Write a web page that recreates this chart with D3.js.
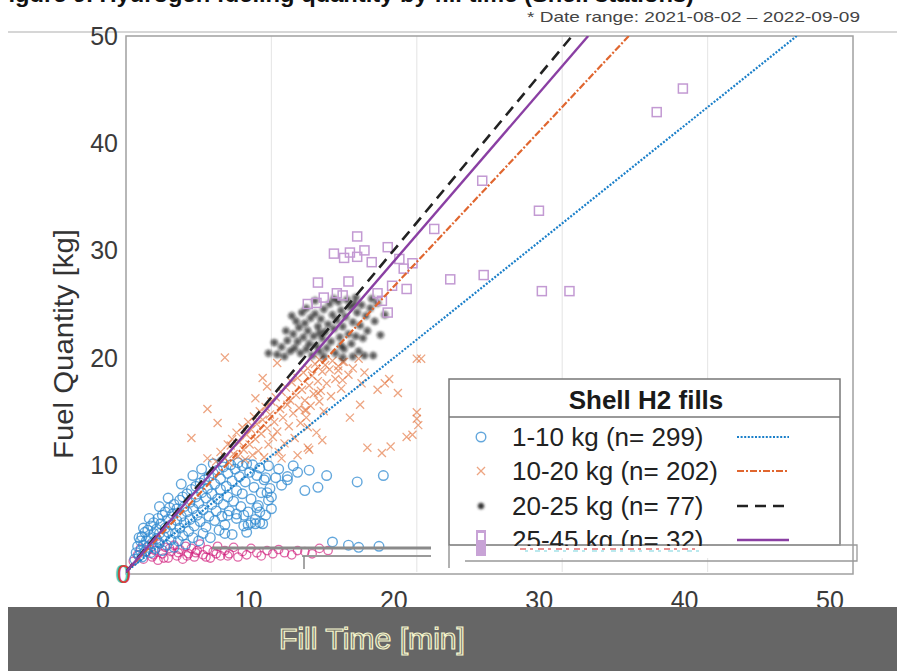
<!DOCTYPE html>
<html>
<head>
<meta charset="utf-8">
<script src="https://cdn.jsdelivr.net/npm/d3@7"></script>
<style>
  body { margin: 0; background: #fff; }
  svg { display: block; font-family: "Liberation Sans", Arial, sans-serif; }
</style>
</head>
<body>
<svg id="chart" width="897" height="671"></svg>
<script>
// ---- data ---------------------------------------------------------------
const xTicks = [0, 10, 20, 30, 40, 50];
const yTicks = [10, 20, 30, 40, 50];
const groupNames = ["1-10 kg", "10-20 kg", "20-25 kg", "25-45 kg"];
const groupCounts = [299, 202, 77, 32];
// least-squares slope through origin for each group [kg/min]
const fitSlopes = [1.084, 1.446, 1.63, 1.573];

// fills of 1-10 kg: [fill time min, quantity kg]
const fills1to10 = [
  [0.6,1.2],[0.7,1.8],[0.8,2.4],[0.9,1.5],[1.0,2.9],[1.0,2.0],[1.1,3.3],[1.1,1.4],[1.2,2.5],[1.3,3.7],
  [1.3,1.9],[1.4,2.9],[1.5,3.9],[1.5,2.3],[1.6,3.2],[1.7,4.3],[1.7,1.8],[1.8,2.7],[1.9,3.6],[1.9,4.6],
  [2.0,2.2],[2.1,3.1],[2.1,4.0],[2.2,5.0],[2.3,2.7],[2.3,3.6],[2.4,4.5],[2.5,2.0],[2.5,5.3],[2.6,3.3],
  [2.7,4.1],[2.7,5.6],[2.8,2.5],[2.9,3.7],[2.9,4.9],[3.0,6.0],[3.1,3.0],[3.1,4.4],[3.2,5.4],[3.3,2.3],
  [3.3,6.3],[3.4,3.6],[3.5,4.8],[3.5,5.9],[3.6,2.9],[3.7,6.7],[3.7,4.1],[3.8,5.2],[3.9,3.4],[3.9,7.0],
  [4.0,4.6],[4.0,6.1],[4.1,2.6],[4.2,5.6],[4.2,7.3],[4.3,3.8],[4.4,6.5],[4.4,4.9],[4.5,7.7],[4.6,3.2],
  [4.6,5.9],[4.7,4.3],[4.8,7.0],[4.8,8.0],[4.9,5.3],[5.0,2.9],[5.0,6.4],[5.1,8.3],[5.1,4.7],[5.2,7.4],
  [5.3,3.6],[5.3,5.8],[5.4,8.6],[5.5,6.9],[5.5,4.2],[5.6,7.8],[5.7,5.2],[5.7,8.9],[5.8,3.2],[5.9,6.3],
  [5.9,7.3],[6.0,9.2],[6.1,4.8],[6.1,8.2],[6.2,5.7],[6.3,6.8],[6.3,9.5],[6.4,3.9],[6.5,7.7],[6.5,8.7],
  [6.6,5.2],[6.7,9.8],[6.7,6.3],[6.8,4.4],[6.9,8.0],[7.0,9.2],[7.0,7.0],[7.1,5.7],[7.2,10.0],[7.3,8.5],
  [7.3,3.5],[7.4,6.6],[7.5,9.6],[7.6,7.6],[7.6,5.0],[7.7,10.2],[7.8,8.9],[7.9,6.1],[8.0,9.9],[8.0,7.3],
  [8.1,4.3],[8.2,8.4],[8.3,10.1],[8.4,5.6],[8.5,9.3],[8.6,6.8],[8.7,10.0],[8.8,7.9],[8.9,4.9],[9.0,9.0],
  [9.1,6.2],[9.2,9.7],[9.3,7.4],[9.5,8.6],[9.6,5.3],[9.8,9.9],[10.0,7.0],[6.0,10.1],[6.6,10.3],[5.2,9.6],
  [4.6,9.0],[3.8,8.2],[2.9,6.9],[1.2,4.1],[0.9,3.2],[1.6,5.0],[2.3,6.1],
  [11.8,9.3],[11.1,8.9],[10.3,8.8],[9.6,8.8],[10.7,8.1],[11.1,8.6],[13.2,7.9],[15.9,8.4],[17.7,9.0],
  [9.9,7.8],[9.7,7.4],[9.8,6.7],[9.0,6.0],[10.0,5.9],[9.2,5.6],[8.9,4.5],[9.4,4.5],[7.6,5.4],[8.1,5.3],
  [7.0,5.3],[8.6,4.6],[9.2,4.6],[8.4,4.4],[6.8,3.6],[8.3,3.7],[12.3,7.6],[10.5,9.6],[11.5,9.9],[12.6,9.5],
  [13.8,9.0],[14.2,2.8],[15.3,2.5],[16.0,2.3],[17.4,2.4]
];

// fills of 10-20 kg
const fills10to20 = [
  [6.2,10.3],[6.5,11.2],[6.8,10.6],[7.0,11.9],[7.1,10.2],[7.3,12.4],[7.4,11.0],[7.6,13.0],[7.7,10.8],[7.8,12.1],
  [8.0,13.5],[8.1,11.4],[8.2,10.5],[8.3,12.8],[8.4,14.0],[8.5,11.9],[8.6,13.3],[8.7,10.9],[8.8,14.5],[8.9,12.4],
  [9.0,13.8],[9.1,11.3],[9.2,15.0],[9.3,12.9],[9.4,14.2],[9.5,10.7],[9.6,15.4],[9.7,13.4],[9.8,11.9],[9.9,14.7],
  [10.0,15.9],[10.1,12.6],[10.2,14.0],[10.3,16.3],[10.4,13.1],[10.5,11.2],[10.6,15.2],[10.7,16.8],[10.8,14.4],[10.9,12.0],
  [11.0,17.2],[11.1,15.6],[11.2,13.6],[11.3,16.0],[11.4,17.7],[11.5,14.8],[11.6,12.5],[11.7,16.5],[11.8,18.1],[11.9,15.3],
  [12.0,13.9],[12.1,17.0],[12.2,18.6],[12.3,16.0],[12.4,14.4],[12.5,19.0],[12.6,17.4],[12.7,15.5],[12.8,18.3],[12.9,16.6],
  [13.0,19.4],[13.1,13.0],[13.2,17.8],[13.3,19.8],[13.4,16.9],[13.5,18.7],[13.6,15.0],[13.7,19.3],[13.8,17.6],[14.0,18.9],
  [14.1,16.4],[14.2,19.7],[14.4,18.0],[14.6,19.2],[14.8,17.1],[15.0,19.6],[15.3,18.4],[15.6,19.0],[16.0,19.9],[16.4,18.6],
  [4.5,12.5],[5.6,15.2],[6.8,20.0],[9.4,18.1],[10.4,19.5],[6.3,13.9],[7.2,11.8],[5.6,10.6],[10.7,10.6],[11.8,10.9],
  [12.5,11.6],[12.3,15.1],[12.5,13.5],[20.0,19.9],[20.3,19.9],[14.6,18.8],[14.9,17.9],[16.1,15.6],[15.4,14.4],[17.3,17.0],
  [17.8,17.6],[18.1,18.0],[18.7,16.7],[16.2,17.6],[20.0,14.9],[20.0,14.3],[20.1,13.7],[19.7,12.8],[19.3,12.6],[16.6,11.6],
  [17.6,11.1],[18.2,11.7],[13.5,12.3],[12.6,11.4],[13.2,16.7],[13.3,15.9],[12.4,15.1],[14.9,19.6],[8.9,16.2],[9.7,17.3]
];

// fills of 20-25 kg
const fills20to25 = [
  [10.4,20.3],[10.7,21.0],[10.9,20.1],[11.1,21.6],[11.3,20.6],[11.5,22.2],[11.6,20.9],[11.8,21.5],[11.9,22.8],[12.0,20.4],
  [12.2,21.9],[12.3,23.2],[12.4,20.8],[12.5,22.5],[12.6,21.3],[12.7,23.7],[12.8,20.2],[12.9,22.0],[13.0,24.1],[13.1,21.1],
  [13.2,22.9],[13.3,20.6],[13.4,23.6],[13.5,21.8],[13.6,24.5],[13.7,22.4],[13.8,20.9],[13.9,23.1],[14.0,25.0],[14.1,21.5],
  [14.2,24.0],[14.3,22.7],[14.4,20.4],[14.5,23.5],[14.6,25.2],[14.7,21.9],[14.8,24.4],[14.9,22.9],[15.0,20.8],[15.1,23.8],
  [15.2,25.4],[15.3,22.2],[15.4,24.7],[15.5,21.3],[15.6,23.3],[15.7,25.0],[15.8,22.0],[15.9,24.2],[16.0,20.6],[16.1,23.0],
  [16.2,24.9],[16.3,21.8],[16.5,23.9],[16.6,22.5],[16.8,24.6],[17.0,20.2],[17.1,23.4],[17.3,25.1],[17.5,22.1],[17.8,24.0],
  [11.0,22.5],[11.7,23.4],[12.1,24.2],[10.2,21.4],[9.8,20.4],[13.0,25.3],[14.3,25.5],[15.8,25.6],[16.9,25.5],[16.4,20.2],
  [15.6,20.1],[14.9,20.0],[13.6,20.1],[12.4,24.6],[11.4,23.9],[14.8,21.1],[13.3,22.3]
];

// fills of 25-45 kg
const fills25to45 = [
  [38.3,45.1],[36.5,42.9],[24.5,36.5],[28.4,33.7],[22.3,27.3],[24.6,27.7],[28.6,26.2],[30.5,26.2],
  [15.9,31.3],[14.3,29.7],[15.0,29.3],[15.4,29.8],[15.9,29.4],[16.4,30.0],[18.0,30.3],[18.8,29.2],
  [19.1,28.3],[19.7,28.8],[21.2,32.0],[13.2,27.0],[15.3,27.1],[18.3,26.7],[14.5,26.0],[14.9,25.8],
  [17.3,26.0],[13.6,25.6],[12.5,25.0],[13.1,25.1],[18.0,24.2],[19.3,26.4],[16.9,28.9],[17.6,25.3]
];

// short top-ups recorded in the low band
const lowFills = [
  [0.5,1.0],[0.8,1.6],[1.0,2.2],[1.2,1.2],[1.4,1.9],[1.6,2.5],[1.8,1.4],[2.0,2.0],[2.2,1.1],[2.3,2.6],
  [2.5,1.7],[2.7,2.3],[2.9,1.3],[3.1,1.9],[3.3,2.5],[3.5,1.5],[3.7,2.1],[3.9,1.2],[4.1,2.4],[4.3,1.7],
  [4.5,2.2],[4.7,1.4],[4.9,2.0],[5.1,2.6],[5.3,1.6],[5.6,2.1],[5.8,1.3],[6.0,1.9],[6.3,2.4],[6.5,1.5],
  [6.8,2.0],[7.1,1.7],[7.4,2.3],[7.7,1.4],[8.0,1.9],[8.3,1.6],[8.6,2.2],[9.0,1.8],[9.3,1.5],[9.7,2.0],
  [10.1,1.7],[10.5,2.1],[10.9,1.8],[11.4,1.6],[11.8,2.0],[12.3,1.9],[12.8,1.7],[13.3,2.2],[13.9,2.0],
  [1.9,1.6],[2.6,1.3],[3.0,2.2],[3.6,1.8],[4.2,1.5],[4.8,1.8],[5.5,1.4],[6.2,1.7],[7.0,1.5]
];

const dateNote = "* Date range: 2021-08-02 – 2022-09-09";
const xTitle = "Fill Time [min]";
const yTitle = "Fuel Quantity [kg]";
const legendTitle = "Shell H2 fills";

// ---- layout ---------------------------------------------------------------
const svg = d3.select("#chart");
const W = 897, H = 671;
const plot = { left: 126, right: 853, top: 36, bottom: 572 };

const x = d3.scaleLinear().domain([0, 50]).range([plot.left, plot.right]);
const y = d3.scaleLinear().domain([0, 50]).range([plot.bottom, plot.top]);

const colors = ["#1a7fc9", "#e0662f", "#222222", "#8a3fa3"];
const markerColors = ["#2f8ad0", "#e4743f", "#111111", "#c39ad3"];

svg.append("rect").attr("width", W).attr("height", H).attr("fill", "#fff");

const defs = svg.append("defs");
defs.append("clipPath").attr("id", "plotClip")
  .append("rect").attr("x", plot.left).attr("y", plot.top)
  .attr("width", plot.right - plot.left).attr("height", plot.bottom - plot.top + 2);
defs.append("filter").attr("id", "soft").attr("x", "-50%").attr("y", "-50%").attr("width", "200%").attr("height", "200%")
  .append("feGaussianBlur").attr("stdDeviation", 0.9);

// figure caption peeking at the top edge
svg.append("text").attr("x", -6).attr("y", 2)
  .attr("font-size", 22).attr("font-weight", "bold").attr("fill", "#111")
  .attr("textLength", 700).attr("lengthAdjust", "spacingAndGlyphs")
  .text("Figure 9. Hydrogen fueling quantity by fill time (Shell stations)");

// date-range note
svg.append("text").attr("x", 527).attr("y", 22)
  .attr("font-size", 15).attr("fill", "#444")
  .attr("textLength", 333).attr("lengthAdjust", "spacingAndGlyphs")
  .text(dateNote);

// thin rule above the plot
svg.append("line").attr("x1", 8).attr("x2", W).attr("y1", 32).attr("y2", 32)
  .attr("stroke", "#c8c8c8").attr("stroke-width", 1.5);

// gridlines
svg.append("g").selectAll("line").data(xTicks.slice(1, -1)).join("line")
  .attr("x1", d => x(d)).attr("x2", d => x(d))
  .attr("y1", plot.top).attr("y2", plot.bottom)
  .attr("stroke", "#e8e8e8").attr("stroke-width", 1.2);

// plot frame
svg.append("rect").attr("x", plot.left).attr("y", plot.top)
  .attr("width", plot.right - plot.left).attr("height", plot.bottom + 2 - plot.top)
  .attr("fill", "none").attr("stroke", "#a0a0a0").attr("stroke-width", 1.5);

// y tick labels
svg.append("g").selectAll("text").data(yTicks).join("text")
  .attr("x", 118).attr("y", d => y(d)).attr("dy", "0.36em")
  .attr("text-anchor", "end").attr("font-size", 25).attr("fill", "#3a3a3a")
  .text(d => d);
// the zero label
svg.append("text").attr("x", 122).attr("y", y(0)).attr("dy", "0.45em")
  .attr("text-anchor", "middle").attr("font-size", 25).attr("fill", "#4ad0d0").text(0);
svg.append("text").attr("x", 124).attr("y", y(0)).attr("dy", "0.45em")
  .attr("text-anchor", "middle").attr("font-size", 25).attr("fill", "#d8413c").text(0);

// x tick labels
svg.append("g").selectAll("text").data(xTicks).join("text")
  .attr("x", d => x(d) - 23).attr("y", 600).attr("dy", "0.36em")
  .attr("text-anchor", "middle").attr("font-size", 25).attr("fill", "#3a3a3a")
  .text(d => d);

// y axis title
svg.append("text")
  .attr("transform", `translate(73,${344}) rotate(-90)`)
  .attr("text-anchor", "middle").attr("font-size", 28).attr("fill", "#333")
  .attr("textLength", 230).attr("lengthAdjust", "spacingAndGlyphs")
  .text(yTitle);

// ---- marks ---------------------------------------------------------------
const g = svg.append("g").attr("clip-path", "url(#plotClip)");

// low-band fills
g.append("g").selectAll("circle").data(lowFills).join("circle")
  .attr("cx", d => x(d[0])).attr("cy", d => y(d[1])).attr("r", 4.2)
  .attr("fill", "none").attr("stroke", "#d0197a").attr("stroke-opacity", 0.65).attr("stroke-width", 1.3);

// 1-10 kg circles
g.append("g").selectAll("circle").data(fills1to10).join("circle")
  .attr("cx", d => x(d[0])).attr("cy", d => y(d[1])).attr("r", 4.8)
  .attr("fill", "none").attr("stroke", markerColors[0]).attr("stroke-opacity", 0.75).attr("stroke-width", 1.4);

// 10-20 kg crosses
const cross = d3.symbol().type(d3.symbolX).size(44);
g.append("g").selectAll("path").data(fills10to20).join("path")
  .attr("transform", d => `translate(${x(d[0])},${y(d[1])})`)
  .attr("d", cross)
  .attr("fill", "none").attr("stroke", markerColors[1]).attr("stroke-opacity", 0.65).attr("stroke-width", 1.3);

// 20-25 kg asterisks
const asterisk = (r) => {
  const p = d3.path();
  for (let k = 0; k < 4; k++) {
    const a = k * Math.PI / 4;
    p.moveTo(-r * Math.cos(a), -r * Math.sin(a));
    p.lineTo(r * Math.cos(a), r * Math.sin(a));
  }
  return p.toString();
};
g.append("g").attr("filter", "url(#soft)").selectAll("path").data(fills20to25).join("path")
  .attr("transform", d => `translate(${x(d[0])},${y(d[1])})`)
  .attr("d", asterisk(4.2))
  .attr("fill", "none").attr("stroke", markerColors[2]).attr("stroke-opacity", 0.7).attr("stroke-width", 1.5);

// 25-45 kg squares
g.append("g").selectAll("rect").data(fills25to45).join("rect")
  .attr("x", d => x(d[0]) - 4.5).attr("y", d => y(d[1]) - 4.5)
  .attr("width", 9).attr("height", 9)
  .attr("fill", "none").attr("stroke", markerColors[3]).attr("stroke-width", 1.5);

// fitted lines through the origin
const dashes = ["2,1.6", "7,2,2,2", "11,7", null];
const widths = [2.2, 2.2, 2.6, 2.4];
const lineGen = d3.line().x(d => x(d[0])).y(d => y(d[1]));
fitSlopes.forEach((s, i) => {
  const xEnd = Math.min(50, 50 / s);
  g.append("path")
    .attr("d", lineGen([[0, 0], [xEnd, s * xEnd]]))
    .attr("fill", "none").attr("stroke", colors[i])
    .attr("stroke-width", widths[i])
    .attr("stroke-dasharray", dashes[i]);
});

// stray rules across the low band
svg.append("line").attr("x1", 212).attr("x2", 431).attr("y1", 548).attr("y2", 548)
  .attr("stroke", "#8a8a8a").attr("stroke-width", 3);
svg.append("line").attr("x1", 302).attr("x2", 431).attr("y1", 556).attr("y2", 556)
  .attr("stroke", "#9a9a9a").attr("stroke-width", 1.8);
svg.append("line").attr("x1", 304).attr("x2", 304).attr("y1", 556).attr("y2", 569)
  .attr("stroke", "#888").attr("stroke-width", 1.5);

// ---- legend ---------------------------------------------------------------
const lg = svg.append("g");
const L = { x: 449, y: 379, w: 391, h: 166 };
lg.append("rect").attr("x", L.x).attr("y", L.y).attr("width", L.w).attr("height", L.h)
  .attr("fill", "#fff").attr("stroke", "#777").attr("stroke-width", 1.5);
lg.append("line").attr("x1", L.x).attr("x2", L.x + L.w).attr("y1", 417).attr("y2", 417)
  .attr("stroke", "#777").attr("stroke-width", 1.5);
lg.append("line").attr("x1", L.x).attr("x2", L.x).attr("y1", L.y + L.h).attr("y2", 568)
  .attr("stroke", "#999").attr("stroke-width", 1.5);
lg.append("text").attr("x", 646).attr("y", 400).attr("dy", "0.36em")
  .attr("text-anchor", "middle").attr("font-size", 26).attr("font-weight", "bold").attr("fill", "#1a1a1a")
  .text(legendTitle);

const rowY = [437, 471, 506, 540];
const labels = groupNames.map((n, i) => `${n} (n= ${groupCounts[i]})`);

labels.forEach((t, i) => {
  lg.append("text").attr("x", 512).attr("y", rowY[i]).attr("dy", "0.36em")
    .attr("font-size", 26).attr("fill", "#222").text(t);
  lg.append("path")
    .attr("d", d3.line()([[737, rowY[i]], [789, rowY[i]]]))
    .attr("stroke", colors[i]).attr("stroke-width", widths[i])
    .attr("stroke-dasharray", dashes[i]);
});

// the last row is torn: its lower strip is blanked and shows a colour fringe
lg.append("rect").attr("x", 500).attr("y", 546).attr("width", 230).attr("height", 12).attr("fill", "#fff");
lg.append("line").attr("x1", 520).attr("x2", 700).attr("y1", 549).attr("y2", 549)
  .attr("stroke", "#d43030").attr("stroke-width", 1.5).attr("stroke-dasharray", "6,4,3,5").attr("stroke-opacity", 0.7);
lg.append("line").attr("x1", 525).attr("x2", 705).attr("y1", 551).attr("y2", 551)
  .attr("stroke", "#20b8c8").attr("stroke-width", 1.2).attr("stroke-dasharray", "3,7,5,4").attr("stroke-opacity", 0.6);

// legend markers
lg.append("circle").attr("cx", 481).attr("cy", rowY[0]).attr("r", 4.8)
  .attr("fill", "none").attr("stroke", markerColors[0]).attr("stroke-opacity", 0.75).attr("stroke-width", 1.4);
lg.append("path").attr("transform", `translate(481,${rowY[1]})`).attr("d", cross)
  .attr("fill", "none").attr("stroke", markerColors[1]).attr("stroke-opacity", 0.65).attr("stroke-width", 1.3);
lg.append("path").attr("transform", `translate(481,${rowY[2]})`).attr("d", asterisk(3.5))
  .attr("filter", "url(#soft)")
  .attr("fill", "none").attr("stroke", "#333").attr("stroke-width", 1.6);
lg.append("rect").attr("x", 476).attr("y", 530).attr("width", 10).attr("height", 26)
  .attr("fill", "#c8a3d6");
lg.append("rect").attr("x", 478).attr("y", 533).attr("width", 6).attr("height", 7)
  .attr("fill", "#fff");

// torn lower edge of the legend
lg.append("path").attr("d", "M727,545 H857 V561 H465")
  .attr("fill", "none").attr("stroke", "#999").attr("stroke-width", 1.3);

// ---- x axis title band ------------------------------------------------------
svg.append("rect").attr("x", 8).attr("y", 607).attr("width", W - 8).attr("height", H - 607)
  .attr("fill", "#666");
svg.append("text").attr("x", 372).attr("y", 639).attr("dy", "0.36em")
  .attr("text-anchor", "middle").attr("font-size", 29)
  .attr("textLength", 186).attr("lengthAdjust", "spacingAndGlyphs")
  .attr("fill", "#77776c").attr("stroke", "#f4f4cc").attr("stroke-width", 1.2)
  .text(xTitle);
</script>
</body>
</html>
